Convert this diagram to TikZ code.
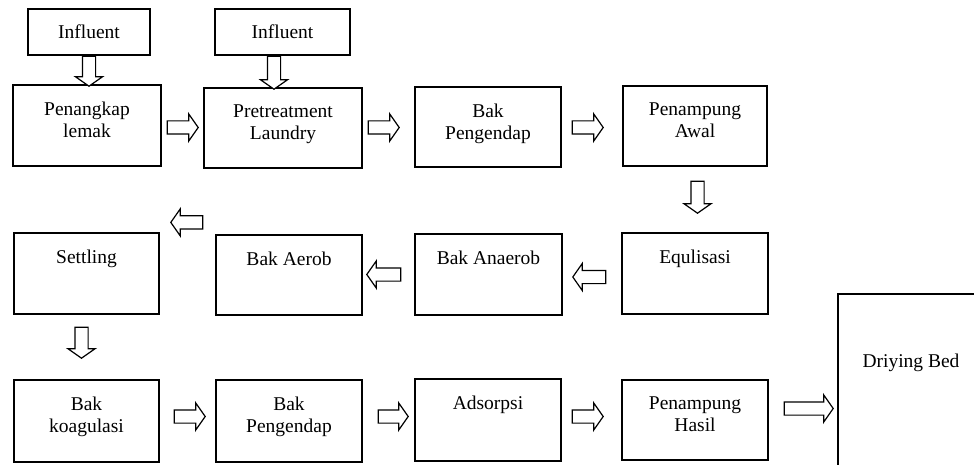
\documentclass[tikz,border=0pt]{standalone}
\usepackage{fontspec}
\setmainfont{Liberation Serif}
\usetikzlibrary{shapes.arrows,calc}

\tikzset{
  stepbox/.style={draw, line width=1.2pt, minimum width=146pt, minimum height=81pt, inner sep=0pt},
  boxtext/.style={anchor=north, align=center, inner sep=0pt, yshift=-17pt},
  flowarr/.style={single arrow, draw, fill=white, line width=1.2pt, inner xsep=0pt,
    inner ysep=6pt, single arrow head extend=7pt, single arrow tip angle=110,
    minimum height=31pt, anchor=tail},
}

\begin{document}
\begin{tikzpicture}[x=1pt,y=-1pt,font=\fontsize{19.5}{22}\selectfont]
  \useasboundingbox (0,0) rectangle (974,465);

  \node[stepbox, minimum width=122pt, minimum height=46pt] (inf1) at (89,32) {Influent};
  \node[stepbox, minimum width=135pt, minimum height=46pt] (inf2) at (282.5,32) {Influent};

  \node[stepbox, minimum width=148pt, label={[boxtext]north:{Penangkap\\lemak}}] (pen) at (87,125.5) {};
  \node[stepbox, minimum width=158pt, minimum height=80pt, label={[boxtext]north:{Pretreatment\\Laundry}}] (pre) at (283,128) {};
  \node[stepbox, minimum height=80pt, label={[boxtext]north:{Bak\\Pengendap}}] (bp1) at (488,127) {};
  \node[stepbox, minimum width=144pt, minimum height=80pt, label={[boxtext]north:{Penampung\\Awal}}] (awal) at (695,126) {};

  \node[stepbox, label={[boxtext]north:Equlisasi}] (equ) at (695,273.5) {};
  \node[stepbox, minimum width=147pt, label={[boxtext]north:Bak Anaerob}] (ana) at (488.5,274.5) {};
  \node[stepbox, minimum height=80pt, label={[boxtext]north:Bak Aerob}] (aer) at (289,275) {};
  \node[stepbox, minimum width=145pt, label={[boxtext]north:Settling}] (set) at (86.5,273.5) {};

  \node[stepbox, minimum width=145pt, minimum height=82pt, label={[boxtext]north:{Bak\\koagulasi}}] (koag) at (86.5,421) {};
  \node[stepbox, minimum height=82pt, label={[boxtext]north:{Bak\\Pengendap}}] (bp2) at (289,421) {};
  \node[stepbox, minimum height=82pt, label={[boxtext]north:Adsorpsi}] (ads) at (488,420) {};
  \node[stepbox, minimum height=80pt, label={[boxtext]north:{Penampung\\Hasil}}] (hasil) at (695,420) {};
  \node[stepbox, minimum height=180pt, label={[boxtext,yshift=-43pt]north:Driying Bed}] (dry) at (911,384) {};

  \node[flowarr, rotate=-90, minimum height=30pt] (a1) at (inf1.south) {};
  \node[flowarr, rotate=-90, minimum height=33pt] (a2) at ($(inf2.south)+(-8.5,0)$) {};
  \node[flowarr] (a3) at ($(pen.east)+(5,2)$) {};
  \node[flowarr] (a4) at ($(pre.east)+(5,-0.5)$) {};
  \node[flowarr] (a5) at ($(bp1.east)+(10,0.5)$) {};
  \node[flowarr, rotate=-90, minimum height=32pt] (a6) at ($(awal.south)+(2.5,14)$) {};
  \node[flowarr, rotate=180, minimum height=33pt] (a7) at ($(equ.west)+(-15,3.5)$) {};
  \node[flowarr, rotate=180, minimum height=34pt] (a8) at ($(ana.west)+(-13,0)$) {};
  \node[flowarr, rotate=180, minimum height=32pt] (a9) at ($(aer.north west)+(-12,-12)$) {};
  \node[flowarr, rotate=-90] (a10) at ($(set.south)+(-5,12)$) {};
  \node[flowarr] (a11) at ($(koag.east)+(14,-4.5)$) {};
  \node[flowarr, minimum height=30pt] (a12) at ($(bp2.east)+(15,-4.5)$) {};
  \node[flowarr] (a13) at ($(ads.east)+(10,-3.5)$) {};
  \node[flowarr, minimum height=49pt] (a14) at ($(hasil.east)+(15,-11.5)$) {};
\end{tikzpicture}
\end{document}
